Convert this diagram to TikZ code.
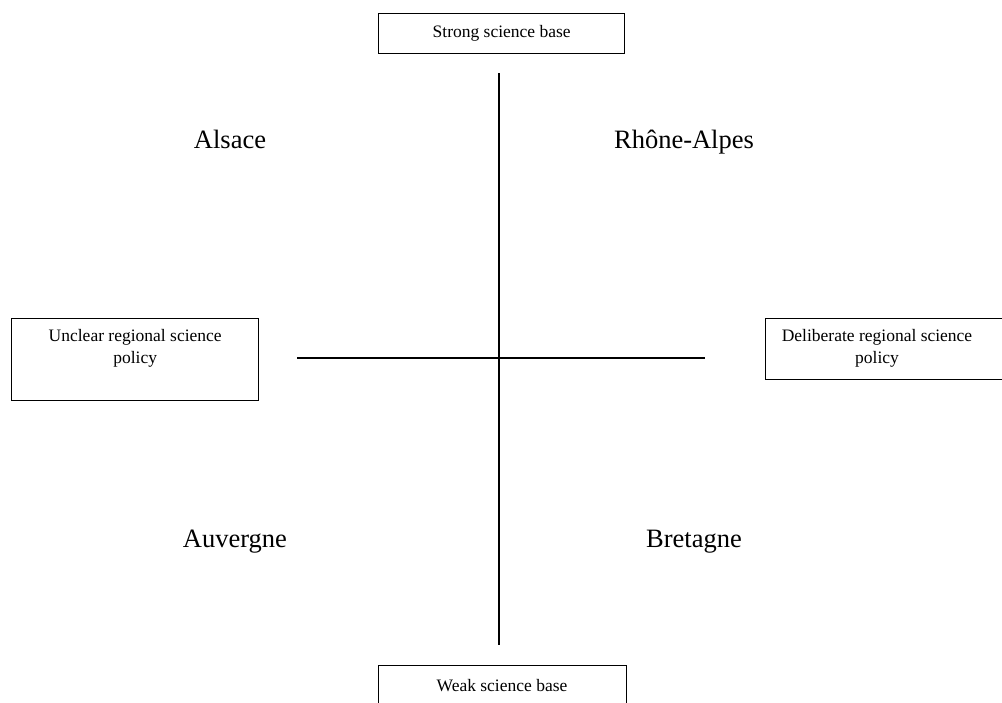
\documentclass[tikz,border=0pt]{standalone}
\usepackage{fontspec}
\setmainfont{Liberation Serif}
\begin{document}
\begin{tikzpicture}[x=1pt,y=-1pt,
  box/.style={draw,line width=1.4pt,inner sep=0pt,minimum width=#1},
  small/.style={font=\fontsize{17.5}{22}\selectfont,align=center},
  big/.style={font=\fontsize{26.5}{30}\selectfont,anchor=base},
  axis/.style={line width=1.4pt}]
\useasboundingbox (0,0) rectangle (1002,702);
\clip (0,0) rectangle (1002,702);
\fill[white] (0,0) rectangle (1002,702);
% boxes
\node[box=246pt,minimum height=40pt,anchor=north west,small] (strong) at (378,13) {Strong science base};
\node[box=248pt,minimum height=60pt,anchor=north west] (weak) at (378,665) {};
\node[small,anchor=center] (weakt) at (502,686) {Weak science base};
\node[box=247pt,minimum height=82pt,anchor=north west] (unclear) at (11,318) {};
\node[small,anchor=north] (unct) at (unclear.north) [yshift=-8pt] {Unclear regional science\\policy};
\node[box=240pt,minimum height=61pt,anchor=north west] (delib) at (765,318) {};
\node[small,anchor=north] (delt) at (877,326) {Deliberate regional science\\policy};
% axes
\coordinate (vt) at (499,73);
\coordinate (vb) at (499,645);
\coordinate (hl) at (297,358);
\coordinate (hr) at (705,358);
\draw[axis] (vt) -- (vb);
\draw[axis] (hl) -- (hr);
% regions
\node[big] (alsace) at (230,148) {Alsace};
\node[big] (rhone) at (684,148) {Rhône-Alpes};
\node[big] (auvergne) at (235,547) {Auvergne};
\node[big] (bretagne) at (694,547) {Bretagne};
\end{tikzpicture}
\end{document}
